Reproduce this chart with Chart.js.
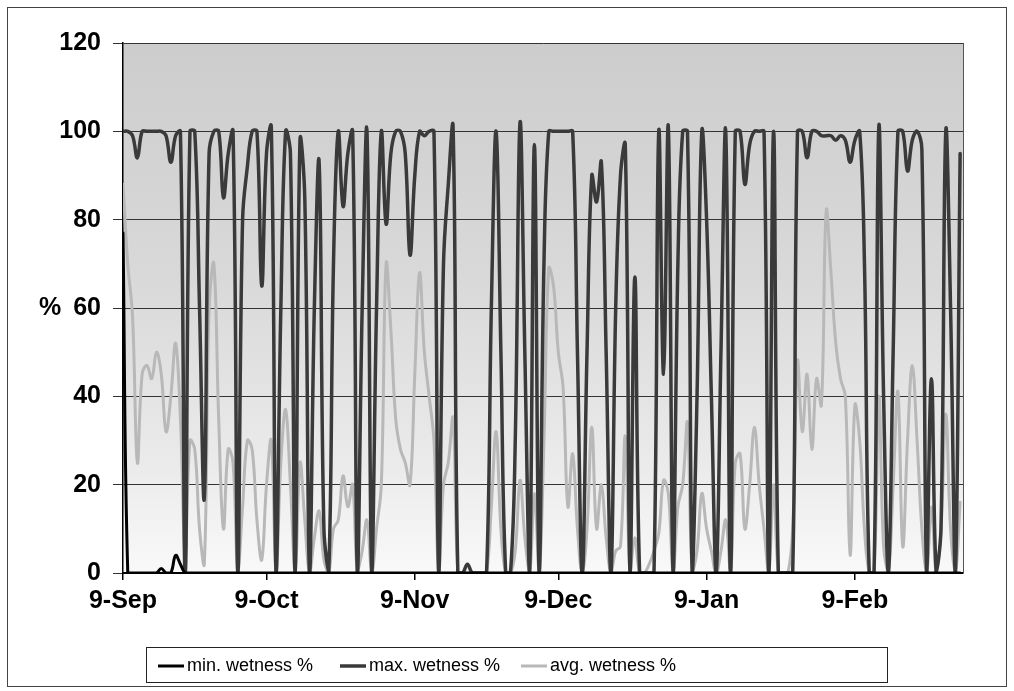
<!DOCTYPE html>
<html><head><meta charset="utf-8">
<script src="https://cdn.jsdelivr.net/npm/chart.js@4.4.0/dist/chart.umd.min.js"></script>
<style>html,body{margin:0;padding:0;background:#fff}#wrap{width:1014px;height:691px;position:relative}canvas{display:block}</style>
</head><body><div id="wrap"><canvas id="c" width="1014" height="691"></canvas></div>
<script>
// Days counted from 9-Sep
const tickLabels = ['9-Sep','9-Oct','9-Nov','9-Dec','9-Jan','9-Feb'];
const tickDays = [0,30,61,91,122,153];
const yTicks = [0,20,40,60,80,100,120];
const seriesNames = ['min. wetness %','max. wetness %','avg. wetness %'];

const minWetness = [
77,0,0,0,0,0,0,0,1,0,
0,4,2,0,0,0,0,0,0,0,
0,0,0,0,0,0,0,0,0,0,
0,0,0,0,0,0,0,0,0,0,
0,0,0,0,0,0,0,0,0,0,
0,0,0,0,0,0,0,0,0,0,
0,0,0,0,0,0,0,0,0,0,
0,0,0,0,0,0,0,0,0,0,
0,0,0,0,0,0,0,0,0,0,
0,0,0,0,0,0,0,0,0,0,
0,0,0,0,0,0,0,0,0,0,
0,0,0,0,0,0,0,0,0,0,
0,0,0,0,0,0,0,0,0,0,
0,0,0,0,0,0,0,0,0,0,
0,0,0,0,0,0,0,0,0,0,
0,0,0,0,0,0,0,0,0,0,
0,0,0,0,0,0,0,0,0,0,
0,0,0,0,0,0
];

const maxWetness = [
100,100,99,94,100,100,100,100,100,99,
93,99,100,0,100,100,60,17,95,100,
100,85,95,100,0,80,92,100,100,65,
95,101,0,60,100,95,0,98,85,0,
60,93,10,0,70,100,83,95,100,0,
60,100,0,60,100,79,95,100,100,95,
72,90,100,99,100,100,0,70,88,101,
0,0,2,0,0,0,0,60,100,50,
0,0,30,102,50,0,97,0,70,100,
100,100,100,100,100,50,0,50,90,84,
93,50,0,60,90,97,0,67,0,0,
0,0,100,45,101,0,70,100,100,0,
40,100,80,40,0,50,100,0,100,100,
88,97,100,100,100,0,100,0,0,0,
0,100,100,94,100,100,99,99,99,98,
99,98,93,98,100,70,0,0,101,40,
0,50,100,100,91,98,100,96,0,44,
0,10,100,60,0,95
];

const avgWetness = [
88,70,58,25,45,47,44,50,45,32,
40,52,35,4,30,28,10,2,60,70,
35,10,28,25,0,15,30,28,12,3,
20,30,0,25,37,20,0,25,12,0,
8,14,3,0,10,12,22,15,20,0,
5,12,0,10,20,70,55,35,28,25,
20,45,68,50,40,30,0,20,25,35,
0,0,0,0,0,0,0,15,32,10,
0,0,5,21,8,0,18,0,30,69,
65,50,42,15,27,10,0,10,33,10,
20,8,0,5,6,31,0,8,0,0,
2,5,9,21,18,0,15,20,34,0,
5,18,10,5,0,5,12,0,25,27,
10,20,33,20,10,0,20,0,0,0,
10,48,32,45,28,44,38,82,68,52,
44,40,4,38,30,10,0,0,40,6,
0,20,41,6,30,47,30,10,0,15,
0,10,36,10,0,16
];

const days = maxWetness.map((_, i) => i);
const FONT = "'Liberation Sans', Arial, Helvetica, sans-serif";
const seriesColors = ['#000000', '#3a3a3a', '#b8b8b8'];
const seriesWidths = [3, 3.5, 3];

const framePlugin = {
  id: 'frame',
  beforeDraw(chart) {
    const ctx = chart.ctx, a = chart.chartArea;
    ctx.save();
    ctx.fillStyle = '#ffffff';
    ctx.fillRect(0, 0, chart.width, chart.height);
    ctx.strokeStyle = '#444';
    ctx.lineWidth = 1;
    ctx.strokeRect(7.5, 7.5, 999, 679);
    const g = ctx.createLinearGradient(0, a.top, 0, a.bottom);
    g.addColorStop(0, '#cdcdcd');
    g.addColorStop(0.45, '#d9d9d9');
    g.addColorStop(0.8, '#ebebeb');
    g.addColorStop(1, '#f9f9f9');
    ctx.fillStyle = g;
    ctx.fillRect(a.left, a.top, a.right - a.left, a.bottom - a.top);
    ctx.restore();
  },
  afterDraw(chart) {
    const ctx = chart.ctx, a = chart.chartArea;
    const ys = chart.scales.y;
    ctx.save();
    ctx.strokeStyle = '#555';
    ctx.lineWidth = 1;
    ctx.beginPath();
    ctx.moveTo(Math.round(a.right) + 0.5, a.top);
    ctx.lineTo(Math.round(a.right) + 0.5, a.bottom);
    ctx.stroke();
    // y axis title, level with the 60 tick
    ctx.fillStyle = '#000';
    ctx.font = 'bold 25px ' + FONT;
    ctx.textAlign = 'center';
    ctx.textBaseline = 'middle';
    ctx.fillText('%', 50, ys.getPixelForValue(60));
    // legend
    ctx.strokeStyle = '#222';
    ctx.lineWidth = 1;
    ctx.strokeRect(146.5, 647.5, 741, 35);
    const itemX = [158, 340, 521];
    ctx.font = '18px ' + FONT;
    ctx.textAlign = 'left';
    ctx.textBaseline = 'middle';
    chart.data.datasets.forEach((ds, i) => {
      const x = itemX[i], y = 666;
      ctx.strokeStyle = ds.borderColor;
      ctx.lineWidth = ds.borderWidth;
      ctx.beginPath();
      ctx.moveTo(x, y);
      ctx.lineTo(x + 26, y);
      ctx.stroke();
      ctx.fillStyle = '#000';
      ctx.fillText(ds.label, x + 29, y);
    });
    ctx.restore();
  }
};

new Chart(document.getElementById('c'), {
  type: 'line',
  data: {
    labels: days,
    datasets: [
      { label: seriesNames[0], data: minWetness, borderColor: seriesColors[0], borderWidth: seriesWidths[0] },
      { label: seriesNames[1], data: maxWetness, borderColor: seriesColors[1], borderWidth: seriesWidths[1] },
      { label: seriesNames[2], data: avgWetness, borderColor: seriesColors[2], borderWidth: seriesWidths[2] }
    ]
  },
  options: {
    responsive: false,
    animation: false,
    devicePixelRatio: 1,
    layout: { padding: { left: 0, top: 43, right: 51, bottom: 68 } },
    elements: { point: { radius: 0 }, line: { tension: 0.4, fill: false, borderCapStyle: 'round', borderJoinStyle: 'round' } },
    plugins: { legend: { display: false }, tooltip: { enabled: false } },
    scales: {
      x: {
        type: 'linear', min: 0, max: 175.6,
        afterBuildTicks: s => { s.ticks = tickDays.map(v => ({ value: v })); },
        ticks: { callback: (v, i) => tickLabels[i], font: { family: FONT, size: 25, weight: 'bold' }, color: '#000', padding: 6, maxRotation: 0, autoSkip: false },
        grid: { drawOnChartArea: false, drawTicks: true, tickLength: 7, color: '#000', lineWidth: 1.5 },
        border: { display: true, color: '#000', width: 2 },
        afterFit: s => { s.height = 50; }
      },
      y: {
        min: 0, max: 120,
        afterBuildTicks: s => { s.ticks = yTicks.map(v => ({ value: v })); },
        ticks: { font: { family: FONT, size: 25, weight: 'bold' }, color: '#000', padding: 12 },
        grid: { color: '#333', lineWidth: 1, tickLength: 10, drawTicks: true },
        border: { display: true, color: '#000', width: 1.5 },
        afterFit: s => { s.width = 123; }
      }
    }
  },
  plugins: [framePlugin]
});
</script>
</body></html>
